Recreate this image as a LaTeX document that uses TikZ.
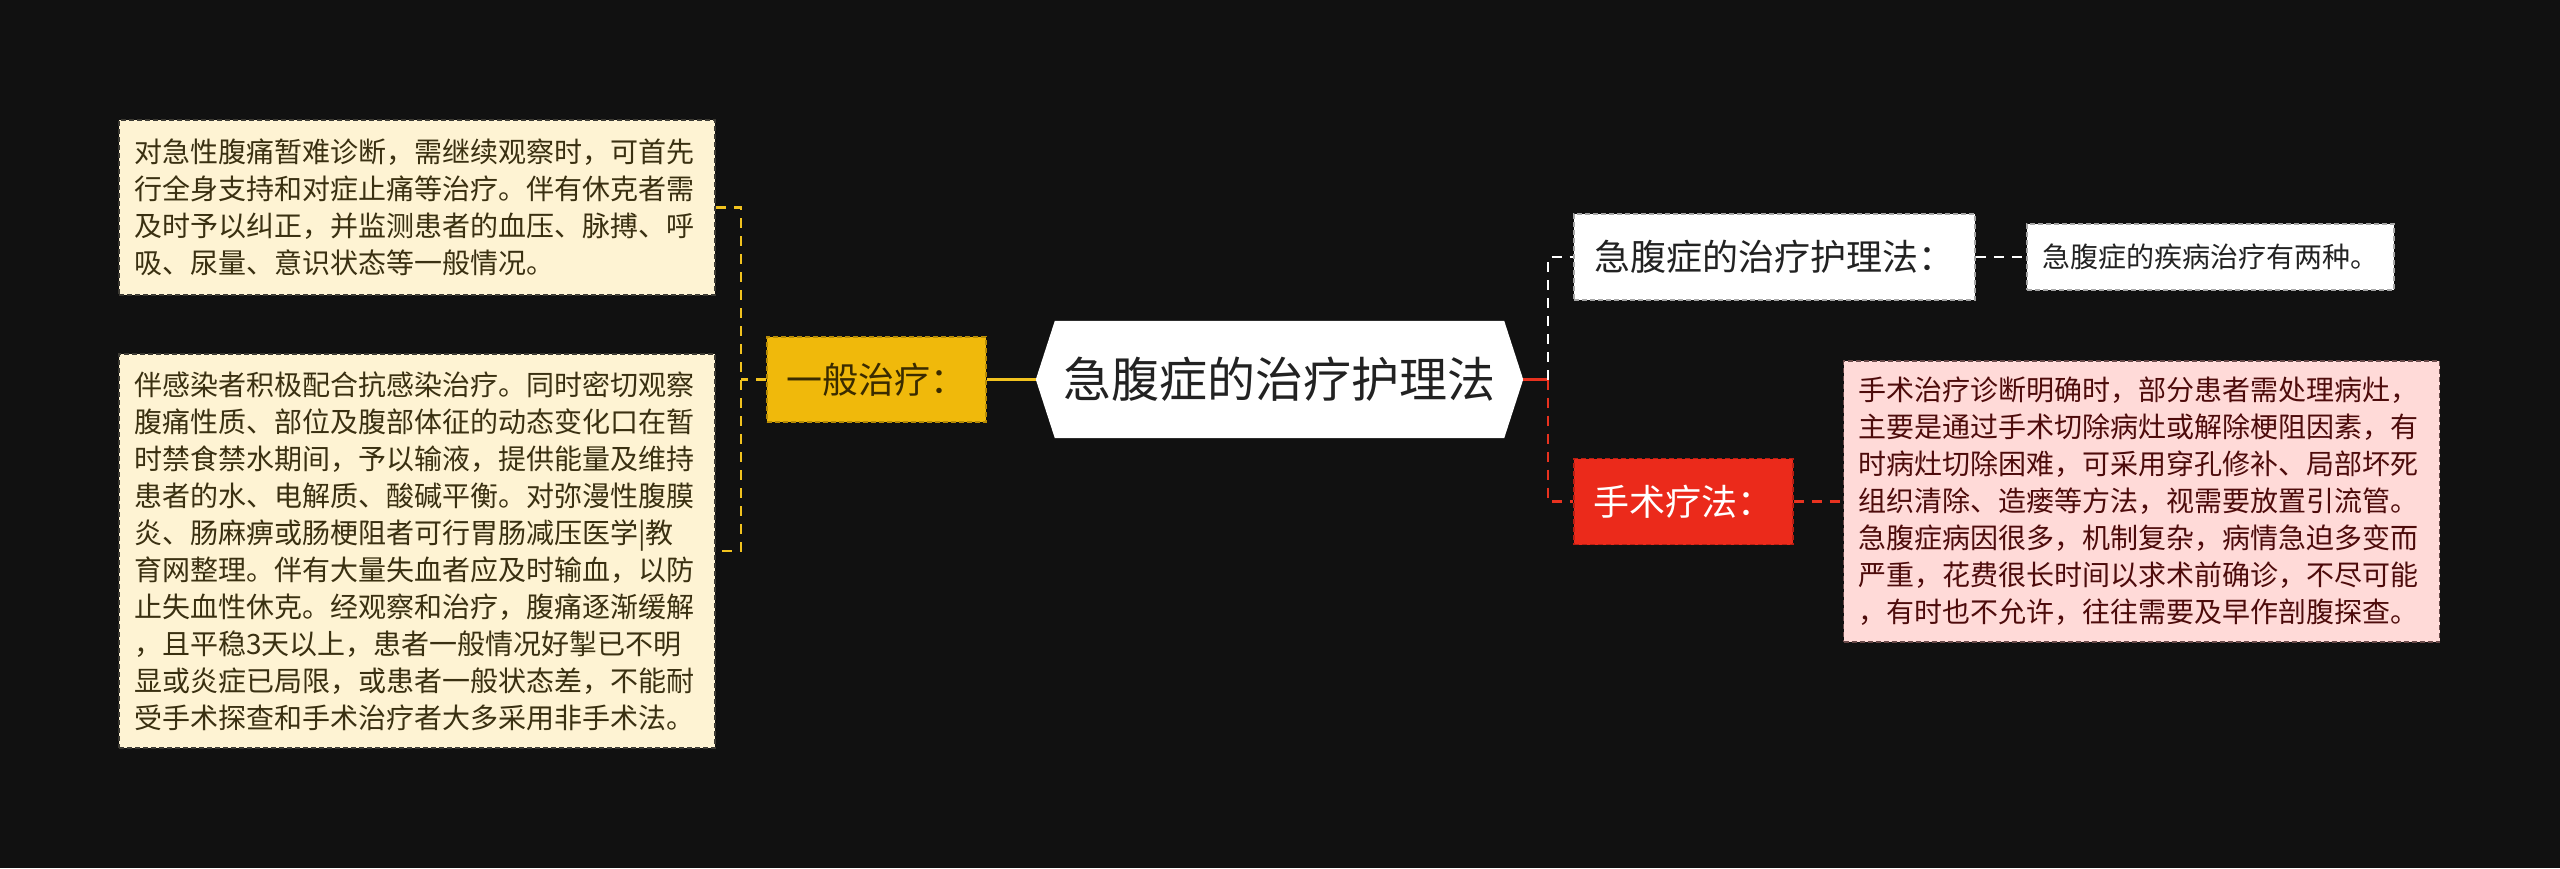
\documentclass[tikz,border=0pt]{standalone}
\usepackage{fontspec}
\setmainfont{Noto Sans CJK SC}
\usetikzlibrary{calc,backgrounds}
\definecolor{bgc}{HTML}{111111}
\definecolor{cream}{HTML}{FEF3D3}
\definecolor{creamtext}{HTML}{3A3011}
\definecolor{creamline}{HTML}{3C3A33}
\definecolor{yel}{HTML}{F0B90B}
\definecolor{yelline}{HTML}{B88C06}
\definecolor{yeltext}{HTML}{3A2B00}
\definecolor{yconn}{HTML}{F2C31F}
\definecolor{redf}{HTML}{EB2A1B}
\definecolor{redline}{HTML}{B81E12}
\definecolor{rconn}{HTML}{E8321F}
\definecolor{pink}{HTML}{FFDAD8}
\definecolor{pinktext}{HTML}{4D0B0B}
\definecolor{pinkline}{HTML}{6A4A4A}
\definecolor{darktext}{HTML}{222222}
\begin{document}
\begin{tikzpicture}[x=1pt,y=-1pt,
  boxdash/.style={line width=1.6pt, dash pattern=on 5pt off 3pt},
  txtbox/.style={rectangle, boxdash, font=\fontsize{28}{37}\selectfont, align=left, text width=566pt, inner sep=0pt, minimum width=596pt},
  creambox/.style={txtbox, fill=cream, draw=creamline, text=creamtext},
  pinkbox/.style={txtbox, fill=pink, draw=pinkline, text=pinktext},
  topicbox/.style={rectangle, boxdash, font=\fontsize{36}{40}\selectfont, inner sep=0pt},
  yelbox/.style={topicbox, fill=yel, draw=yelline, text=yeltext, minimum width=219pt, minimum height=85pt},
  redbox/.style={topicbox, fill=redf, draw=redline, text=white, minimum width=219pt, minimum height=86pt},
  whitebox/.style={topicbox, fill=white, draw=gray!70, text=darktext, minimum width=401pt, minimum height=86pt},
  smallbox/.style={rectangle, boxdash, fill=white, draw=gray!70, text=darktext, font=\fontsize{28}{32}\selectfont, inner sep=0pt, minimum width=367pt, minimum height=66pt},
  centerbox/.style={rectangle, draw=none, text=darktext, font=\fontsize{48}{52}\selectfont, inner sep=0pt, minimum width=487pt, minimum height=117pt},
  ysolid/.style={draw=yconn, line width=3pt},
  ydash/.style={draw=yconn, line width=2.4pt, dash pattern=on 10pt off 8pt},
  rsolid/.style={draw=rconn, line width=3pt},
  rdash/.style={draw=rconn, line width=2.4pt, dash pattern=on 10pt off 8pt},
  wdash/.style={draw=white, line width=2.4pt, dash pattern=on 10pt off 8pt}
]
\useasboundingbox (0,0) rectangle (2560,868);

\node[centerbox] (c) at (1279.5,379.5) {急腹症的治疗护理法};

\node[yelbox] (g) at (876.5,379.5) {一般治疗：};

\node[creambox, minimum height=175pt] (b1) at (417,207.5) {对急性腹痛暂难诊断，需继续观察时，可首先\\行全身支持和对症止痛等治疗。伴有休克者需\\及时予以纠正，并监测患者的血压、脉搏、呼\\吸、尿量、意识状态等一般情况。};

\node[creambox, minimum height=394pt] (b2) at (417,551) {伴感染者积极配合抗感染治疗。同时密切观察\\腹痛性质、部位及腹部体征的动态变化口在暂\\时禁食禁水期间，予以输液，提供能量及维持\\患者的水、电解质、酸碱平衡。对弥漫性腹膜\\炎、肠麻痹或肠梗阻者可行胃肠减压医学|教\\育网整理。伴有大量失血者应及时输血，以防\\止失血性休克。经观察和治疗，腹痛逐渐缓解\\，且平稳3天以上，患者一般情况好掣已不明\\显或炎症已局限，或患者一般状态差，不能耐\\受手术探查和手术治疗者大多采用非手术法。};

\node[whitebox] (w1) at (1774.5,257) {急腹症的治疗护理法：};
\node[smallbox] (w2) at (2210.5,257) {急腹症的疾病治疗有两种。};

\node[redbox] (s) at (1683.5,501.5) {手术疗法：};

\node[pinkbox, minimum height=281pt] (p) at (2141.5,501.5) {手术治疗诊断明确时，部分患者需处理病灶，\\主要是通过手术切除病灶或解除梗阻因素，有\\时病灶切除困难，可采用穿孔修补、局部坏死\\组织清除、造瘘等方法，视需要放置引流管。\\急腹症病因很多，机制复杂，病情急迫多变而\\严重，花费很长时间以求术前确诊，不尽可能\\，有时也不允许，往往需要及早作剖腹探查。};

\coordinate (busL) at (741,0);
\coordinate (busR) at (1548,0);

\begin{pgfonlayer}{background}
\fill[bgc] (0,0) rectangle (2560,868);
\fill[white] (c.west) -- ($(c.north west)+(19,0)$) -- ($(c.north east)+(-19,0)$) -- (c.east) -- ($(c.south east)+(-19,0)$) -- ($(c.south west)+(19,0)$) -- cycle;
\path[ysolid] (g.east) -- (c.west);
\path[ydash] (g.west) -- (g.west -| busL);
\path[ydash] (b1.east) -- (b1.east -| busL) -- (b2.east -| busL) -- (b2.east);
\path[rsolid] (c.east) -- (c.east -| busR);
\path[wdash] (c.east -| busR) -- (w1.west -| busR) -- (w1.west);
\path[rdash] (c.east -| busR) -- (s.west -| busR) -- (s.west);
\path[wdash] (w1.east) -- (w2.west);
\path[rdash] (s.east) -- (p.west);
\end{pgfonlayer}
\end{tikzpicture}
\end{document}
